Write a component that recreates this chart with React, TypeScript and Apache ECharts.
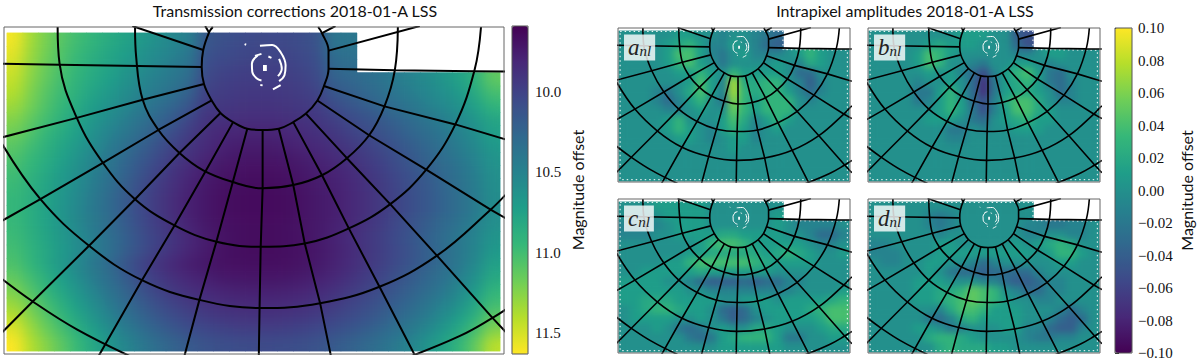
import React, { useEffect, useRef } from "react";
import * as echarts from "echarts";

const n = null;
const viridis = ["#440154", "#482878", "#3e4989", "#31688e", "#26828e", "#1f9e89", "#35b779", "#6ece58", "#b5de2b", "#fde725"];

// Transmission corrections, magnitude offset, 31 columns x 24 rows
const transmission = [
[11.60,11.35,11.20,11.08,10.99,10.91,10.83,10.76,10.68,10.60,10.53,10.46,10.15,10.10,10.07,10.05,10.05,10.05,10.07,10.12,10.38,10.40,n,n,n,n,n,n,n,n,n],
[11.55,11.32,11.18,11.05,10.96,10.87,10.79,10.72,10.63,10.56,10.49,10.41,10.12,10.07,10.04,10.02,10.02,10.02,10.05,10.10,10.33,10.36,n,n,n,n,n,n,n,n,n],
[11.50,11.29,11.15,11.03,10.93,10.84,10.76,10.67,10.59,10.51,10.44,10.36,10.08,10.03,10.00,9.98,9.98,9.99,10.02,10.07,10.27,10.31,n,n,n,n,n,n,n,n,n],
[11.45,11.26,11.12,11.00,10.90,10.81,10.72,10.63,10.54,10.46,10.39,10.30,10.04,9.99,9.97,9.96,9.96,9.97,9.99,10.04,10.21,10.26,10.31,10.37,10.44,10.51,10.58,10.66,10.76,10.90,11.12],
[11.40,11.22,11.08,10.97,10.87,10.76,10.67,10.58,10.49,10.41,10.33,10.22,9.99,9.96,9.94,9.93,9.93,9.94,9.96,10.00,10.14,10.20,10.26,10.32,10.39,10.46,10.53,10.60,10.70,10.83,11.02],
[11.33,11.19,11.05,10.93,10.82,10.71,10.62,10.53,10.43,10.34,10.25,10.13,9.95,9.93,9.91,9.90,9.90,9.91,9.93,9.96,10.06,10.13,10.19,10.26,10.33,10.40,10.48,10.55,10.63,10.75,10.92],
[11.25,11.12,11.00,10.88,10.77,10.66,10.56,10.46,10.36,10.26,10.16,10.03,9.90,9.88,9.87,9.86,9.86,9.87,9.89,9.92,9.98,10.05,10.11,10.17,10.24,10.31,10.39,10.47,10.55,10.66,10.80],
[11.18,11.06,10.94,10.83,10.72,10.61,10.50,10.40,10.29,10.18,10.07,9.96,9.87,9.82,9.81,9.80,9.80,9.81,9.84,9.88,9.92,9.99,10.05,10.11,10.18,10.26,10.33,10.41,10.50,10.60,10.74],
[11.10,11.00,10.89,10.78,10.67,10.56,10.44,10.33,10.22,10.11,10.00,9.91,9.84,9.79,9.76,9.75,9.75,9.77,9.80,9.83,9.87,9.93,9.99,10.05,10.13,10.20,10.28,10.36,10.45,10.55,10.68],
[11.05,10.95,10.85,10.74,10.63,10.51,10.39,10.27,10.16,10.05,9.95,9.87,9.80,9.75,9.72,9.71,9.71,9.72,9.75,9.79,9.83,9.88,9.94,10.01,10.08,10.16,10.24,10.32,10.41,10.51,10.64],
[11.00,10.91,10.81,10.70,10.59,10.47,10.35,10.23,10.11,10.00,9.90,9.82,9.76,9.71,9.69,9.68,9.68,9.69,9.72,9.76,9.79,9.84,9.90,9.97,10.04,10.12,10.20,10.28,10.37,10.47,10.61],
[10.97,10.88,10.78,10.67,10.56,10.44,10.32,10.19,10.07,9.96,9.87,9.79,9.73,9.69,9.67,9.66,9.66,9.67,9.70,9.74,9.77,9.82,9.88,9.95,10.02,10.10,10.17,10.26,10.35,10.45,10.59],
[10.95,10.86,10.76,10.65,10.54,10.42,10.29,10.17,10.05,9.94,9.85,9.77,9.72,9.68,9.66,9.65,9.65,9.66,9.69,9.73,9.76,9.81,9.87,9.94,10.01,10.09,10.16,10.25,10.34,10.44,10.58],
[10.95,10.85,10.75,10.64,10.53,10.41,10.29,10.16,10.04,9.94,9.85,9.77,9.72,9.68,9.66,9.65,9.65,9.66,9.69,9.73,9.76,9.81,9.87,9.94,10.01,10.09,10.16,10.25,10.34,10.44,10.58],
[10.96,10.86,10.76,10.65,10.54,10.42,10.30,10.18,10.06,9.96,9.87,9.79,9.73,9.69,9.67,9.66,9.66,9.67,9.70,9.73,9.77,9.82,9.89,9.96,10.04,10.12,10.20,10.29,10.38,10.48,10.61],
[10.98,10.88,10.78,10.67,10.56,10.45,10.33,10.21,10.09,9.99,9.90,9.82,9.75,9.70,9.67,9.66,9.66,9.67,9.69,9.73,9.78,9.84,9.91,9.98,10.06,10.14,10.23,10.32,10.41,10.51,10.65],
[11.01,10.91,10.80,10.68,10.56,10.45,10.33,10.20,10.07,9.97,9.88,9.80,9.74,9.69,9.67,9.66,9.66,9.67,9.69,9.72,9.77,9.83,9.90,9.97,10.05,10.13,10.22,10.31,10.41,10.52,10.68],
[11.05,10.93,10.80,10.67,10.53,10.40,10.27,10.13,10.00,9.90,9.82,9.76,9.72,9.69,9.68,9.67,9.67,9.68,9.70,9.73,9.78,9.84,9.91,9.98,10.06,10.14,10.22,10.31,10.42,10.55,10.75],
[11.13,11.00,10.86,10.72,10.58,10.44,10.31,10.18,10.05,9.95,9.87,9.81,9.77,9.73,9.72,9.71,9.71,9.72,9.74,9.77,9.82,9.88,9.95,10.02,10.10,10.18,10.27,10.36,10.48,10.62,10.82],
[11.22,11.07,10.93,10.78,10.64,10.50,10.37,10.24,10.11,10.01,9.93,9.87,9.83,9.80,9.78,9.77,9.77,9.78,9.80,9.83,9.88,9.94,10.00,10.07,10.15,10.23,10.32,10.42,10.55,10.70,10.92],
[11.32,11.16,11.01,10.86,10.71,10.57,10.43,10.30,10.18,10.08,10.00,9.94,9.89,9.86,9.84,9.83,9.83,9.84,9.86,9.89,9.94,10.00,10.06,10.13,10.21,10.29,10.39,10.50,10.63,10.80,11.00],
[11.43,11.25,11.09,10.94,10.79,10.64,10.50,10.37,10.25,10.15,10.07,10.01,9.96,9.93,9.91,9.90,9.90,9.91,9.93,9.96,10.01,10.06,10.12,10.19,10.27,10.36,10.46,10.58,10.73,10.90,11.12],
[11.55,11.33,11.17,11.02,10.87,10.72,10.58,10.45,10.33,10.23,10.15,10.09,10.04,10.01,9.99,9.98,9.98,9.99,10.01,10.04,10.09,10.14,10.20,10.27,10.35,10.44,10.55,10.68,10.83,11.02,11.25],
[11.63,11.40,11.25,11.10,10.95,10.80,10.65,10.52,10.41,10.31,10.23,10.17,10.12,10.09,10.07,10.06,10.06,10.07,10.09,10.12,10.17,10.22,10.28,10.35,10.43,10.53,10.65,10.78,10.94,11.14,11.42],
];

// Intrapixel amplitudes, in hundredths of a magnitude, 21 columns x 16 rows
const aNl = [
[0,0,0,0,0,1,1,0,0,-1,0,0,-1,-2,-3,n,n,n,n,n,n],
[0,0,0,0,1,2,3,1,-1,-1,1,0,-1,-3,-4,n,n,n,n,n,n],
[0,0,0,0,1,4,4,1,-1,-2,0,1,-1,-1,-1,0,1,3,1,0,0],
[0,0,0,0,1,3,4,1,0,-2,0,0,0,0,1,0,-1,2,1,0,0],
[0,0,0,0,0,1,1,3,1,0,3,1,1,1,1,0,-3,-3,0,0,0],
[0,0,0,0,0,0,1,4,1,-1,7,2,2,3,3,0,-1,-4,-1,0,0],
[0,0,0,-1,-2,0,2,4,1,-1,7,3,2,3,3,1,-1,-3,-1,0,0],
[0,0,0,-1,-3,-1,1,3,0,-2,6,3,1,3,3,3,0,-1,0,0,0],
[0,0,0,0,-1,-1,0,1,0,0,5,3,1,3,3,3,0,0,0,0,0],
[0,0,0,0,1,3,0,0,0,1,4,2,-1,1,3,1,0,0,0,0,0],
[0,0,0,0,1,3,1,0,-1,1,3,1,-1,0,1,0,0,0,0,0,0],
[0,0,0,0,0,1,1,0,-1,0,1,1,-1,0,0,0,0,0,0,0,0],
[0,0,0,0,0,0,0,0,0,0,1,0,0,0,0,0,0,0,0,0,0],
[0,0,0,0,0,0,0,0,0,0,0,0,0,0,0,0,0,0,0,0,0],
[0,0,0,0,0,0,0,0,0,0,0,0,0,0,0,0,0,0,0,0,0],
[0,0,0,0,0,0,0,0,0,0,0,0,0,0,0,0,0,0,0,0,0],
];
const bNl = [
[0,0,0,0,0,0,0,0,1,1,1,0,0,-4,-5,n,n,n,n,n,n],
[0,0,0,0,0,1,2,1,1,1,0,0,0,-3,-5,n,n,n,n,n,n],
[0,0,0,0,1,4,3,1,0,0,0,0,0,-1,-1,0,1,1,0,0,0],
[0,0,0,0,1,4,3,0,0,-1,-2,0,0,1,1,0,-1,0,0,0,0],
[0,0,0,0,0,1,0,1,-1,-3,-5,-1,1,3,4,1,-2,-3,0,0,0],
[0,0,0,0,-1,0,0,1,0,-3,-7,-2,1,2,3,1,-2,-3,-1,0,0],
[0,0,0,0,-2,-2,1,3,0,-3,-7,-2,1,2,2,1,0,-3,-1,0,0],
[0,0,0,0,-2,-1,1,3,1,-3,-5,-1,2,4,4,2,0,-1,-1,0,0],
[0,0,0,0,0,0,1,3,1,-2,-5,-1,1,4,4,2,1,0,0,0,0],
[0,0,0,0,0,1,1,1,0,-2,-3,0,1,2,3,1,1,0,0,0,0],
[0,0,0,0,0,0,0,-2,-2,0,-1,0,0,1,1,1,0,0,0,0,0],
[0,0,0,0,0,0,0,-1,-1,0,0,0,0,0,0,0,0,0,0,0,0],
[0,0,0,0,0,0,0,0,0,0,0,0,0,0,0,0,0,0,0,0,0],
[0,0,0,0,0,0,0,0,0,0,0,0,0,0,0,0,0,0,0,0,0],
[0,0,0,0,0,0,0,0,0,0,0,0,0,0,0,0,0,0,0,0,0],
[0,0,0,0,0,0,0,0,0,0,0,0,0,0,0,0,0,0,0,0,0],
];
const cNl = [
[0,0,0,1,1,1,1,1,0,0,0,0,0,0,0,n,n,n,n,n,n],
[0,-1,-1,0,1,1,1,1,0,0,0,0,0,0,1,n,n,n,n,n,n],
[-1,-1,-1,-1,0,1,1,1,0,0,0,0,0,0,1,0,-1,-1,-1,-1,0],
[-1,-1,-1,0,0,1,1,1,1,2,2,1,1,1,1,0,0,-1,-3,-3,-1],
[0,0,0,0,0,0,0,1,3,4,4,3,1,1,1,1,1,0,-1,-1,0],
[0,0,0,0,0,0,1,1,2,2,2,2,2,1,2,3,2,1,0,0,1],
[0,0,0,0,1,1,3,4,4,4,4,4,3,2,1,1,1,1,0,0,0],
[0,0,1,1,1,1,1,2,1,1,1,1,1,1,0,0,0,0,0,0,0],
[1,1,1,1,0,0,-1,-3,-4,-4,-4,-3,-4,-3,-3,-1,-1,0,0,0,0],
[1,1,1,1,1,1,0,0,-1,-1,-1,-1,-1,-1,-1,-1,0,0,0,0,1],
[1,1,2,2,2,1,1,1,1,0,0,1,1,1,0,1,1,1,1,2,3],
[0,1,2,3,3,2,1,1,0,-3,-4,-3,0,1,1,1,1,2,3,4,4],
[0,1,1,1,1,0,0,1,0,-2,-4,-3,-1,0,1,1,1,1,2,4,4],
[0,0,0,1,0,-2,-3,-2,0,1,0,0,2,2,1,0,0,0,1,2,2],
[0,0,0,0,0,0,-2,-3,-2,1,2,3,3,3,1,-2,-2,0,0,1,1],
[0,0,0,0,0,0,0,0,0,1,1,1,1,1,1,0,0,0,0,0,0],
];
const dNl = [
[0,0,0,0,0,0,0,0,0,0,0,0,0,0,0,n,n,n,n,n,n],
[0,0,0,0,0,-1,-2,-1,0,0,0,0,0,0,0,n,n,n,n,n,n],
[0,0,0,0,0,-1,-2,-1,0,0,0,0,0,0,-1,-1,-2,-2,-1,-1,0],
[0,0,0,0,0,0,-1,0,0,0,0,0,0,0,-1,-1,0,0,-1,-1,0],
[-1,-1,0,0,0,0,1,1,0,0,0,0,0,1,0,1,2,3,2,0,0],
[-1,-1,-1,0,0,0,1,1,1,1,1,1,1,1,1,0,1,3,3,1,0],
[0,-1,-1,0,0,1,1,0,0,-1,-3,-1,0,0,0,0,0,1,1,0,0],
[0,0,0,0,0,1,0,-2,-3,-3,-4,-3,-3,-3,-3,-1,0,0,0,0,0],
[0,0,0,0,1,1,1,0,0,0,-1,-1,-3,-4,-4,-3,-1,-1,0,0,0],
[0,0,0,0,1,1,2,2,3,5,4,3,0,-1,-3,-3,-1,-1,0,0,0],
[0,0,0,0,1,1,2,3,4,5,4,3,1,0,0,-1,-1,0,0,0,0],
[0,0,0,0,0,0,-1,2,4,4,3,1,1,1,0,0,0,-1,-3,-1,0],
[0,0,0,0,0,-2,-3,-1,2,3,1,1,1,1,0,0,-1,-3,-4,-3,0],
[0,0,0,0,1,1,0,-2,-1,0,0,0,1,1,-1,-1,-3,-4,-4,-1,0],
[0,0,0,0,0,2,3,3,2,1,0,0,0,0,-1,-2,-2,-1,-1,0,0],
[0,0,0,0,0,0,2,3,2,2,2,1,1,0,0,0,0,0,0,0,0],
];

// Focal-plane grid, in a shared panel coordinate system
const panelXRange = [10, 1315];
const panelYRange = [78, 1075];
const rings = [
  [[555,78],[545,95],[530,148],[526,200],[532,252],[552,302],[575,340],[608,368],[645,388],[685,392],[727,388],[765,368],[798,342],[828,302],[845,258],[857,205],[857,150],[840,97],[830,78]],
  [[352,78],[355,170],[372,300],[413,392],[468,462],[530,515],[605,550],[685,570],[765,560],[840,530],[905,478],[963,408],[1003,320],[1030,210],[1038,78]],
  [[150,78],[155,190],[200,355],[268,492],[352,603],[455,683],[565,733],[685,748],[795,738],[910,692],[1018,618],[1112,513],[1188,375],[1238,210],[1255,78]],
  [[0,425],[105,603],[232,745],[370,850],[520,910],[680,935],[835,920],[990,870],[1140,775],[1280,635],[1325,582]],
  [[0,842],[85,915],[200,1000],[345,1085]],
  [[1065,1085],[1200,1020],[1285,965],[1325,935]],
];
const spokes = [
  [[685,392],[685,570],[680,748],[677,935],[675,1085]],
  [[645,388],[605,560],[565,730],[520,910],[480,1085]],
  [[608,368],[535,520],[455,683],[370,850],[255,1085]],
  [[575,340],[468,462],[352,603],[232,745],[85,915],[0,1015]],
  [[552,302],[413,392],[268,492],[105,603],[0,672]],
  [[532,252],[372,300],[200,355],[0,416]],
  [[526,200],[155,193],[0,190]],
  [[530,148],[345,75]],
  [[545,95],[535,75]],
  [[727,388],[765,560],[795,738],[835,920],[864,1085]],
  [[765,368],[840,530],[910,692],[990,870],[1085,1085]],
  [[798,342],[905,478],[1018,618],[1140,775],[1285,965],[1325,1015]],
  [[828,302],[963,408],[1112,513],[1280,635],[1325,665]],
  [[845,258],[1003,320],[1188,375],[1325,423]],
  [[857,205],[1030,210],[1238,213],[1325,214]],
  [[857,150],[1095,75]],
  [[840,97],[875,75]],
];
const whiteArcs = [
  [[678,135],[710,133],[732,155],[745,195],[742,225],[728,243]],
  [[712,268],[732,255]],
  [[672,165],[657,190],[658,215],[670,235],[682,241]],
  [[665,166],[682,160]],
  [[728,175],[735,205],[725,228]],
  [[700,168],[708,172]],
  [[638,130],[642,132]],
  [[679,255],[685,256]],
];
const whiteCore = [[686,203],[696,203]];
const dataEdge = [[22,100],[938,100],[938,218],[1300,222],[1300,1060],[22,1060],[22,100]];

const leftTicks = [10.0, 10.5, 11.0, 11.5];
const rightTicks = [-0.1, -0.08, -0.06, -0.04, -0.02, 0, 0.02, 0.04, 0.06, 0.08, 0.1];

const panelTitles = ["a", "b", "c", "d"];
const panelTables = [aNl, bNl, cNl, dNl];

const axisOff = { show: false };
const mainInset = [7, 33, 493, 318];
const smallX = [618, 868];
const smallY = [28, 199];
const smallInset = (fx: number, fy: number) => [fx + 1, fy + 3, 230, 150];

function buildOption() {
  const grids: any[] = [];
  const xAxis: any[] = [];
  const yAxis: any[] = [];
  const series: any[] = [];
  const overlays: any[] = [];
  const titles: any[] = [];

  const addPanel = (frame: number[], inset: number[], table: any[][], scale: number, lw: number, wlw: number, coreW: number, dash: number[] | null) => {
    const gridHeat = grids.length;
    grids.push({ left: inset[0], top: inset[1], width: inset[2], height: inset[3] });
    grids.push({ left: frame[0], top: frame[1], width: frame[2], height: frame[3], show: true, borderColor: "#666", borderWidth: 1, backgroundColor: "transparent", z: 5 });
    const rows = table.length;
    const cols = table[0].length;
    xAxis.push({ type: "category", gridIndex: gridHeat, data: table[0].map((_, i) => String(i)), ...axisOff });
    yAxis.push({ type: "category", gridIndex: gridHeat, inverse: true, data: table.map((_, i) => String(i)), ...axisOff });
    xAxis.push({ type: "value", gridIndex: gridHeat + 1, min: panelXRange[0], max: panelXRange[1], ...axisOff });
    yAxis.push({ type: "value", gridIndex: gridHeat + 1, min: panelYRange[0], max: panelYRange[1], inverse: true, ...axisOff });
    const data: any[] = [];
    for (let r = 0; r < rows; r++) for (let c = 0; c < cols; c++) {
      const v = table[r][c];
      if (v !== null) data.push([c, r, v * scale]);
    }
    series.push({
      type: "heatmap", xAxisIndex: gridHeat, yAxisIndex: gridHeat, data, silent: true, z: 2,
      itemStyle: { borderWidth: 0 }, emphasis: { disabled: true }, progressive: 0,
    });
    const lineBase = { type: "line", xAxisIndex: gridHeat + 1, yAxisIndex: gridHeat + 1, showSymbol: false, symbol: "none", silent: true, z: 3 };
    if (dash) overlays.push({ ...lineBase, data: dataEdge, lineStyle: { color: "#fff", width: dash[0], type: [dash[1], dash[2]] } });
    rings.forEach((d) => overlays.push({ ...lineBase, data: d, smooth: 0.4, z: 4, lineStyle: { color: "#000", width: lw } }));
    spokes.forEach((d) => overlays.push({ ...lineBase, data: d, z: 4, lineStyle: { color: "#000", width: lw } }));
    whiteArcs.forEach((d) => overlays.push({ ...lineBase, data: d, smooth: 0.4, z: 4, lineStyle: { color: "#fff", width: wlw } }));
    overlays.push({ ...lineBase, data: whiteCore, z: 4, lineStyle: { color: "#fff", width: coreW } });
  };

  addPanel([4, 27, 500, 327], mainInset, transmission, 1, 2, 2, 6, null);
  panelTables.forEach((t, i) => {
    const fx = smallX[i % 2];
    const fy = smallY[i < 2 ? 0 : 1];
    addPanel([fx, fy, 232, 154], smallInset(fx, fy), t, 0.01, 1.6, 1, 3, [1, 1.5, 3]);
    titles.push({
      text: "{m|" + panelTitles[i] + "}{s|nl}",
      left: fx + 6,
      top: fy + 7,
      padding: [1, 4, 2, 4],
      backgroundColor: "rgba(255,255,255,0.8)",
      z: 10,
      textStyle: {
        fontWeight: "normal",
        rich: {
          m: { fontFamily: "Liberation Serif", fontStyle: "italic", fontWeight: "normal", fontSize: 23, color: "#222", lineHeight: 22 },
          s: { fontFamily: "Liberation Serif", fontStyle: "italic", fontWeight: "normal", fontSize: 15, color: "#222", padding: [7, 0, 0, 0] },
        },
      },
    });
  });

  const cbLeft = grids.length;
  const tickFont = { fontFamily: "Liberation Serif", fontWeight: "normal", fontSize: 15, color: "#111" };
  const tickRich = { t: { ...tickFont } };
  grids.push({ left: 512, top: 26, width: 16, height: 328, show: true, borderColor: "#555", borderWidth: 1, backgroundColor: "transparent", z: 6 });
  xAxis.push({ type: "value", gridIndex: cbLeft, min: 0, max: 1, ...axisOff });
  yAxis.push({
    type: "value", gridIndex: cbLeft, position: "right", min: 9.59, max: 11.63, inverse: true,
    splitLine: { show: false }, axisLine: { show: false },
    axisTick: { show: true, length: 4, customValues: leftTicks, lineStyle: { color: "#222" } },
    axisLabel: { ...tickFont, rich: tickRich, margin: 7, customValues: leftTicks, formatter: (v: number) => "{t|" + v.toFixed(1) + "}" },
    name: "Magnitude offset", nameLocation: "middle", nameRotate: 90, nameGap: 41,
    nameTextStyle: { fontFamily: "Lato", fontSize: 16, color: "#111" },
  });
  const cbRight = grids.length;
  grids.push({ left: 1115, top: 28, width: 17, height: 325, show: true, borderColor: "#555", borderWidth: 1, backgroundColor: "transparent", z: 6 });
  xAxis.push({ type: "value", gridIndex: cbRight, min: 0, max: 1, ...axisOff });
  yAxis.push({
    type: "value", gridIndex: cbRight, position: "right", min: -0.1, max: 0.1,
    splitLine: { show: false }, axisLine: { show: false },
    axisTick: { show: true, length: 4, customValues: rightTicks, lineStyle: { color: "#222" } },
    axisLabel: { ...tickFont, rich: tickRich, margin: 6, customValues: rightTicks, formatter: (v: number) => "{t|" + v.toFixed(2).replace("-", "\u2212") + "}" },
    name: "Magnitude offset", nameLocation: "middle", nameRotate: 90, nameGap: 46,
    nameTextStyle: { fontFamily: "Lato", fontSize: 16, color: "#111" },
  });

  titles.push(
    { text: "Transmission corrections 2018-01-A LSS", left: 295, top: 2, textAlign: "center", padding: 0, textStyle: { fontFamily: "Lato", fontSize: 16, fontWeight: "normal", color: "#111" } },
    { text: "Intrapixel amplitudes 2018-01-A LSS", left: 905, top: 2, textAlign: "center", padding: 0, textStyle: { fontFamily: "Lato", fontSize: 16, fontWeight: "normal", color: "#111" } },
  );

  return {
    animation: false,
    backgroundColor: "#fff",
    textStyle: { fontFamily: "Liberation Serif" },
    title: titles,
    grid: grids,
    xAxis,
    yAxis,
    visualMap: [
      {
        type: "continuous", min: 9.59, max: 11.63, inverse: true, seriesIndex: [0], dimension: 2,
        left: 512, top: 26, itemWidth: 16, itemHeight: 328, padding: 0, calculable: false, hoverLink: false,
        inRange: { color: viridis }, textStyle: { fontSize: 0 },
      },
      {
        type: "continuous", min: -0.1, max: 0.1, seriesIndex: [1, 2, 3, 4], dimension: 2,
        left: 1115, top: 28, itemWidth: 17, itemHeight: 325, padding: 0, calculable: false, hoverLink: false,
        inRange: { color: viridis }, textStyle: { fontSize: 0 },
      },
    ],
    series: [...series, ...overlays],
  };
}

// Softens the heatmap's cells, which are far coarser than the reference's pixels.
// The library's cells stay in place; a blurred copy is laid over them.
function softenCells(root: HTMLElement) {
  const svg = root.querySelector("svg");
  if (!svg) return;
  const ns = "http://www.w3.org/2000/svg";
  const defs = document.createElementNS(ns, "defs");
  svg.insertBefore(defs, svg.firstChild);
  const makeFilter = (id: string, dev: string) => {
    const f = document.createElementNS(ns, "filter");
    f.setAttribute("id", id);
    f.setAttribute("filterUnits", "userSpaceOnUse");
    f.setAttribute("x", "0");
    f.setAttribute("y", "0");
    f.setAttribute("width", "1200");
    f.setAttribute("height", "364");
    f.setAttribute("color-interpolation-filters", "sRGB");
    const blur = document.createElementNS(ns, "feGaussianBlur");
    blur.setAttribute("in", "SourceGraphic");
    blur.setAttribute("stdDeviation", dev);
    blur.setAttribute("result", "b");
    const tr = document.createElementNS(ns, "feComponentTransfer");
    tr.setAttribute("in", "b");
    tr.setAttribute("result", "s");
    const a = document.createElementNS(ns, "feFuncA");
    a.setAttribute("type", "linear");
    a.setAttribute("slope", "50");
    tr.appendChild(a);
    const comp = document.createElementNS(ns, "feComposite");
    comp.setAttribute("in", "s");
    comp.setAttribute("in2", "SourceAlpha");
    comp.setAttribute("operator", "in");
    f.appendChild(blur);
    f.appendChild(tr);
    f.appendChild(comp);
    defs.appendChild(f);
  };
  makeFilter("softMain", "7 6");
  makeFilter("softSmall", "3.5 3");
  const insets: [number[], string][] = [[mainInset, "softMain"]];
  panelTables.forEach((_, i) => insets.push([smallInset(smallX[i % 2], smallY[i < 2 ? 0 : 1]), "softSmall"]));
  const paths = Array.from(svg.querySelectorAll("path")) as SVGPathElement[];
  insets.forEach(([box, id]) => {
    const cells = paths.filter((p) => {
      const fill = p.getAttribute("fill");
      if (!fill || fill === "none") return false;
      const bb = p.getBBox();
      return bb.width <= 18 && bb.height <= 15 && bb.width >= 8 && bb.height >= 8 &&
        bb.x >= box[0] - 8 && bb.y >= box[1] - 8 && bb.x + bb.width <= box[0] + box[2] + 8 && bb.y + bb.height <= box[1] + box[3] + 8;
    });
    if (!cells.length) return;
    const g = document.createElementNS(ns, "g");
    g.setAttribute("filter", "url(#" + id + ")");
    cells.forEach((c) => g.appendChild(c.cloneNode(true)));
    const last = cells[cells.length - 1];
    last.parentNode!.insertBefore(g, last.nextSibling);
  });
}

export default function App() {
  const ref = useRef<HTMLDivElement>(null);
  useEffect(() => {
    if (!ref.current) return;
    const chart = echarts.init(ref.current, undefined, { renderer: "svg" });
    chart.setOption(buildOption() as any);
    try { softenCells(ref.current); } catch (e) { /* cells stay crisp */ }
    return () => chart.dispose();
  }, []);
  return <div ref={ref} style={{ position: "absolute", left: 0, top: 0, width: 1200, height: 364 }} />;
}
